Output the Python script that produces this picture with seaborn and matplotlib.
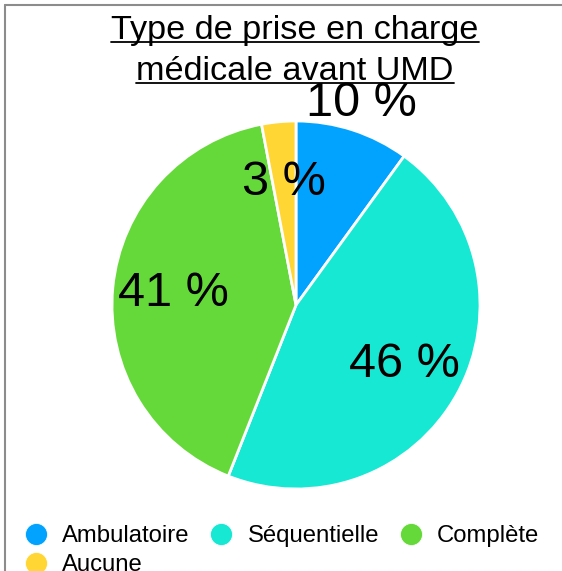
import numpy as np
import seaborn as sns
import matplotlib
matplotlib.use("Agg")
import matplotlib.pyplot as plt
from matplotlib.lines import Line2D

# Data
categories = ["Ambulatoire", "Séquentielle", "Complète", "Aucune"]
values = [10, 46, 41, 3]
colors = ["#02a3ff", "#16e8d3", "#66d93a", "#ffd633"]
title_lines = ["Type de prise en charge", "médicale avant UMD"]

sns.set_theme(style="white")
plt.rcParams['font.family'] = ['Liberation Sans', 'DejaVu Sans']
plt.rcParams['text.color'] = 'black'

W, H = 562, 571
fig = plt.figure(figsize=(W / 100, H / 100), dpi=100)

# pie axes placed so that the circle has centre (296, 305) px and radius 184 px
cx, cy, r = 296, 305, 184
lim = 1.05
side = 2 * r * lim
ax = fig.add_axes([(cx - side / 2) / W, (H - cy - side / 2) / H, side / W, side / H])

palette = sns.color_palette(colors)
wedges, texts, autotexts = ax.pie(
    values, colors=palette, startangle=90, counterclock=False,
    autopct=lambda p: f"{p:.0f} %", pctdistance=0.67,
    wedgeprops=dict(edgecolor="white", linewidth=2),
    textprops=dict(fontsize=35, color="black"),
)
ax.set_xlim(-lim, lim)
ax.set_ylim(-lim, lim)

# small slice label pushed outside the pie
w0 = wedges[0]
mid = np.deg2rad((w0.theta1 + w0.theta2) / 2)
autotexts[0].set_position((1.15 * np.cos(mid), 1.15 * np.sin(mid)))

# title, two underlined lines
ys = [1 - 39 / H, 1 - 80 / H]
title_texts = []
for line, y in zip(title_lines, ys):
    t = fig.text(0.525, y, line, ha="center", va="baseline", fontsize=24.7, color="black")
    title_texts.append(t)

fig.canvas.draw()
renderer = fig.canvas.get_renderer()
for t, y in zip(title_texts, ys):
    bb = t.get_window_extent(renderer)
    uy = y - 3 / H
    fig.add_artist(Line2D([bb.x0 / W, bb.x1 / W], [uy, uy], color="black", lw=1.3))

# legend (row-major order emulated)
handles = [Line2D([], [], marker="o", ls="", markersize=15.8, markerfacecolor=c,
                  markeredgecolor="white", markeredgewidth=0.5) for c in colors]
order = [0, 3, 1, 2]
fig.legend([handles[i] for i in order], [categories[i] for i in order],
           ncol=3, loc="upper left", bbox_to_anchor=(24 / W, 1 - 525 / H),
           frameon=False, fontsize=17.2, handlelength=1.0, handletextpad=0.59,
           columnspacing=0.84, borderpad=0, borderaxespad=0, labelspacing=0.3,
           labelcolor="black")

# frame lines
fig.add_artist(Line2D([5 / W, 5 / W], [0, 1 - 5 / H], color="#8c8c8c", lw=1.5))
fig.add_artist(Line2D([5 / W, 1], [1 - 5 / H, 1 - 5 / H], color="#8c8c8c", lw=1.5))

fig.savefig("out.png", dpi=100)
